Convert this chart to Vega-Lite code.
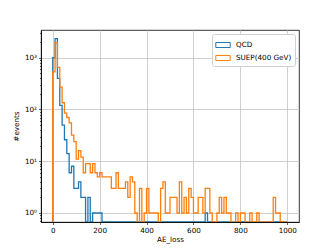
{
  "$schema": "https://vega.github.io/schema/vega-lite/v6.json",
  "width": 258,
  "height": 192,
  "autosize": {"type": "none"},
  "padding": {"left": 41, "top": 30, "right": 33, "bottom": 27},
  "background": "white",
  "config": {
    "view": {"stroke": "black", "strokeWidth": 0.8},
    "font": "DejaVu Sans",
    "axis": {
      "labelFont": "DejaVu Sans",
      "titleFont": "DejaVu Sans",
      "labelFontSize": 7.2,
      "titleFontSize": 7.2,
      "titleFontWeight": "normal",
      "labelColor": "black",
      "titleColor": "black",
      "domainColor": "black",
      "domainWidth": 0.8,
      "tickColor": "black",
      "tickWidth": 0.6,
      "gridColor": "#c4c4c4",
      "gridWidth": 0.8,
      "labelPadding": 2,
      "zindex": 1
    },
    "legend": {
      "labelFont": "DejaVu Sans",
      "labelFontSize": 7.2,
      "labelColor": "black"
    }
  },
  "data": {
    "values": [
      {"s": "QCD", "x": 0, "n": 0},
      {"s": "QCD", "x": 0, "n": 1000},
      {"s": "QCD", "x": 10, "n": 2350},
      {"s": "QCD", "x": 20, "n": 400},
      {"s": "QCD", "x": 30, "n": 120},
      {"s": "QCD", "x": 40, "n": 50},
      {"s": "QCD", "x": 50, "n": 26},
      {"s": "QCD", "x": 60, "n": 14},
      {"s": "QCD", "x": 70, "n": 6},
      {"s": "QCD", "x": 80, "n": 8},
      {"s": "QCD", "x": 90, "n": 3},
      {"s": "QCD", "x": 100, "n": 3},
      {"s": "QCD", "x": 110, "n": 4},
      {"s": "QCD", "x": 120, "n": 2},
      {"s": "QCD", "x": 130, "n": 2},
      {"s": "QCD", "x": 140, "n": 0},
      {"s": "QCD", "x": 150, "n": 2},
      {"s": "QCD", "x": 160, "n": 0},
      {"s": "QCD", "x": 170, "n": 1},
      {"s": "QCD", "x": 180, "n": 1},
      {"s": "QCD", "x": 190, "n": 1},
      {"s": "QCD", "x": 200, "n": 1},
      {"s": "QCD", "x": 210, "n": 0},
      {"s": "QCD", "x": 220, "n": 0},
      {"s": "QCD", "x": 230, "n": 0},
      {"s": "QCD", "x": 240, "n": 0},
      {"s": "QCD", "x": 250, "n": 0},
      {"s": "QCD", "x": 260, "n": 0},
      {"s": "QCD", "x": 270, "n": 0},
      {"s": "QCD", "x": 280, "n": 0},
      {"s": "QCD", "x": 290, "n": 0},
      {"s": "QCD", "x": 300, "n": 0},
      {"s": "QCD", "x": 310, "n": 0},
      {"s": "QCD", "x": 320, "n": 0},
      {"s": "QCD", "x": 330, "n": 0},
      {"s": "QCD", "x": 340, "n": 0},
      {"s": "QCD", "x": 350, "n": 0},
      {"s": "QCD", "x": 360, "n": 0},
      {"s": "QCD", "x": 370, "n": 0},
      {"s": "QCD", "x": 380, "n": 0},
      {"s": "QCD", "x": 390, "n": 0},
      {"s": "QCD", "x": 400, "n": 0},
      {"s": "QCD", "x": 410, "n": 0},
      {"s": "QCD", "x": 420, "n": 0},
      {"s": "QCD", "x": 430, "n": 0},
      {"s": "QCD", "x": 440, "n": 0},
      {"s": "QCD", "x": 450, "n": 0},
      {"s": "QCD", "x": 460, "n": 0},
      {"s": "QCD", "x": 470, "n": 0},
      {"s": "QCD", "x": 480, "n": 0},
      {"s": "QCD", "x": 490, "n": 0},
      {"s": "QCD", "x": 500, "n": 0},
      {"s": "QCD", "x": 510, "n": 0},
      {"s": "QCD", "x": 520, "n": 0},
      {"s": "QCD", "x": 530, "n": 0},
      {"s": "QCD", "x": 540, "n": 0},
      {"s": "QCD", "x": 550, "n": 0},
      {"s": "QCD", "x": 560, "n": 0},
      {"s": "QCD", "x": 570, "n": 0},
      {"s": "QCD", "x": 580, "n": 0},
      {"s": "QCD", "x": 590, "n": 0},
      {"s": "QCD", "x": 600, "n": 0},
      {"s": "QCD", "x": 610, "n": 0},
      {"s": "QCD", "x": 620, "n": 0},
      {"s": "QCD", "x": 630, "n": 0},
      {"s": "QCD", "x": 640, "n": 0},
      {"s": "QCD", "x": 650, "n": 1},
      {"s": "QCD", "x": 660, "n": 0},
      {"s": "QCD", "x": 670, "n": 0},
      {"s": "QCD", "x": 680, "n": 0},
      {"s": "QCD", "x": 690, "n": 0},
      {"s": "QCD", "x": 700, "n": 0},
      {"s": "QCD", "x": 710, "n": 0},
      {"s": "QCD", "x": 720, "n": 0},
      {"s": "QCD", "x": 730, "n": 0},
      {"s": "QCD", "x": 740, "n": 0},
      {"s": "QCD", "x": 750, "n": 0},
      {"s": "QCD", "x": 760, "n": 0},
      {"s": "QCD", "x": 770, "n": 0},
      {"s": "QCD", "x": 780, "n": 0},
      {"s": "QCD", "x": 790, "n": 0},
      {"s": "QCD", "x": 800, "n": 0},
      {"s": "QCD", "x": 810, "n": 0},
      {"s": "QCD", "x": 820, "n": 0},
      {"s": "QCD", "x": 830, "n": 0},
      {"s": "QCD", "x": 840, "n": 0},
      {"s": "QCD", "x": 850, "n": 0},
      {"s": "QCD", "x": 860, "n": 0},
      {"s": "QCD", "x": 870, "n": 0},
      {"s": "QCD", "x": 880, "n": 0},
      {"s": "QCD", "x": 890, "n": 0},
      {"s": "QCD", "x": 900, "n": 0},
      {"s": "QCD", "x": 910, "n": 0},
      {"s": "QCD", "x": 920, "n": 0},
      {"s": "QCD", "x": 930, "n": 0},
      {"s": "QCD", "x": 940, "n": 0},
      {"s": "QCD", "x": 950, "n": 0},
      {"s": "QCD", "x": 960, "n": 0},
      {"s": "QCD", "x": 970, "n": 0},
      {"s": "QCD", "x": 980, "n": 0},
      {"s": "QCD", "x": 990, "n": 0},
      {"s": "QCD", "x": 1000, "n": 0},
      {"s": "SUEP(400 GeV)", "x": 0, "n": 0},
      {"s": "SUEP(400 GeV)", "x": 0, "n": 535},
      {"s": "SUEP(400 GeV)", "x": 10, "n": 1950},
      {"s": "SUEP(400 GeV)", "x": 20, "n": 650},
      {"s": "SUEP(400 GeV)", "x": 30, "n": 270},
      {"s": "SUEP(400 GeV)", "x": 40, "n": 135},
      {"s": "SUEP(400 GeV)", "x": 50, "n": 85},
      {"s": "SUEP(400 GeV)", "x": 60, "n": 70},
      {"s": "SUEP(400 GeV)", "x": 70, "n": 55},
      {"s": "SUEP(400 GeV)", "x": 80, "n": 32},
      {"s": "SUEP(400 GeV)", "x": 90, "n": 24},
      {"s": "SUEP(400 GeV)", "x": 100, "n": 11},
      {"s": "SUEP(400 GeV)", "x": 110, "n": 16},
      {"s": "SUEP(400 GeV)", "x": 120, "n": 12},
      {"s": "SUEP(400 GeV)", "x": 130, "n": 6},
      {"s": "SUEP(400 GeV)", "x": 140, "n": 9},
      {"s": "SUEP(400 GeV)", "x": 150, "n": 9},
      {"s": "SUEP(400 GeV)", "x": 160, "n": 6},
      {"s": "SUEP(400 GeV)", "x": 170, "n": 9},
      {"s": "SUEP(400 GeV)", "x": 180, "n": 6},
      {"s": "SUEP(400 GeV)", "x": 190, "n": 5},
      {"s": "SUEP(400 GeV)", "x": 200, "n": 6},
      {"s": "SUEP(400 GeV)", "x": 210, "n": 5},
      {"s": "SUEP(400 GeV)", "x": 220, "n": 5},
      {"s": "SUEP(400 GeV)", "x": 230, "n": 5},
      {"s": "SUEP(400 GeV)", "x": 240, "n": 5},
      {"s": "SUEP(400 GeV)", "x": 250, "n": 3},
      {"s": "SUEP(400 GeV)", "x": 260, "n": 3},
      {"s": "SUEP(400 GeV)", "x": 270, "n": 6},
      {"s": "SUEP(400 GeV)", "x": 280, "n": 3},
      {"s": "SUEP(400 GeV)", "x": 290, "n": 3},
      {"s": "SUEP(400 GeV)", "x": 300, "n": 3},
      {"s": "SUEP(400 GeV)", "x": 310, "n": 4},
      {"s": "SUEP(400 GeV)", "x": 320, "n": 2},
      {"s": "SUEP(400 GeV)", "x": 330, "n": 5},
      {"s": "SUEP(400 GeV)", "x": 340, "n": 4},
      {"s": "SUEP(400 GeV)", "x": 350, "n": 1},
      {"s": "SUEP(400 GeV)", "x": 360, "n": 0},
      {"s": "SUEP(400 GeV)", "x": 370, "n": 3},
      {"s": "SUEP(400 GeV)", "x": 380, "n": 0},
      {"s": "SUEP(400 GeV)", "x": 390, "n": 1},
      {"s": "SUEP(400 GeV)", "x": 400, "n": 3},
      {"s": "SUEP(400 GeV)", "x": 410, "n": 1},
      {"s": "SUEP(400 GeV)", "x": 420, "n": 1},
      {"s": "SUEP(400 GeV)", "x": 430, "n": 1},
      {"s": "SUEP(400 GeV)", "x": 440, "n": 1},
      {"s": "SUEP(400 GeV)", "x": 450, "n": 0},
      {"s": "SUEP(400 GeV)", "x": 460, "n": 3},
      {"s": "SUEP(400 GeV)", "x": 470, "n": 4},
      {"s": "SUEP(400 GeV)", "x": 480, "n": 1},
      {"s": "SUEP(400 GeV)", "x": 490, "n": 1},
      {"s": "SUEP(400 GeV)", "x": 500, "n": 2},
      {"s": "SUEP(400 GeV)", "x": 510, "n": 2},
      {"s": "SUEP(400 GeV)", "x": 520, "n": 2},
      {"s": "SUEP(400 GeV)", "x": 530, "n": 1},
      {"s": "SUEP(400 GeV)", "x": 540, "n": 4},
      {"s": "SUEP(400 GeV)", "x": 550, "n": 1},
      {"s": "SUEP(400 GeV)", "x": 560, "n": 2},
      {"s": "SUEP(400 GeV)", "x": 570, "n": 1},
      {"s": "SUEP(400 GeV)", "x": 580, "n": 3},
      {"s": "SUEP(400 GeV)", "x": 590, "n": 2},
      {"s": "SUEP(400 GeV)", "x": 600, "n": 1},
      {"s": "SUEP(400 GeV)", "x": 610, "n": 1},
      {"s": "SUEP(400 GeV)", "x": 620, "n": 2},
      {"s": "SUEP(400 GeV)", "x": 630, "n": 2},
      {"s": "SUEP(400 GeV)", "x": 640, "n": 1},
      {"s": "SUEP(400 GeV)", "x": 650, "n": 3},
      {"s": "SUEP(400 GeV)", "x": 660, "n": 3},
      {"s": "SUEP(400 GeV)", "x": 670, "n": 1},
      {"s": "SUEP(400 GeV)", "x": 680, "n": 0},
      {"s": "SUEP(400 GeV)", "x": 690, "n": 0},
      {"s": "SUEP(400 GeV)", "x": 700, "n": 1},
      {"s": "SUEP(400 GeV)", "x": 710, "n": 2},
      {"s": "SUEP(400 GeV)", "x": 720, "n": 1},
      {"s": "SUEP(400 GeV)", "x": 730, "n": 2},
      {"s": "SUEP(400 GeV)", "x": 740, "n": 1},
      {"s": "SUEP(400 GeV)", "x": 750, "n": 1},
      {"s": "SUEP(400 GeV)", "x": 760, "n": 0},
      {"s": "SUEP(400 GeV)", "x": 770, "n": 0},
      {"s": "SUEP(400 GeV)", "x": 780, "n": 1},
      {"s": "SUEP(400 GeV)", "x": 790, "n": 0},
      {"s": "SUEP(400 GeV)", "x": 800, "n": 1},
      {"s": "SUEP(400 GeV)", "x": 810, "n": 1},
      {"s": "SUEP(400 GeV)", "x": 820, "n": 0},
      {"s": "SUEP(400 GeV)", "x": 830, "n": 0},
      {"s": "SUEP(400 GeV)", "x": 840, "n": 1},
      {"s": "SUEP(400 GeV)", "x": 850, "n": 0},
      {"s": "SUEP(400 GeV)", "x": 860, "n": 0},
      {"s": "SUEP(400 GeV)", "x": 870, "n": 1},
      {"s": "SUEP(400 GeV)", "x": 880, "n": 0},
      {"s": "SUEP(400 GeV)", "x": 890, "n": 0},
      {"s": "SUEP(400 GeV)", "x": 900, "n": 0},
      {"s": "SUEP(400 GeV)", "x": 910, "n": 0},
      {"s": "SUEP(400 GeV)", "x": 920, "n": 0},
      {"s": "SUEP(400 GeV)", "x": 930, "n": 0},
      {"s": "SUEP(400 GeV)", "x": 940, "n": 2},
      {"s": "SUEP(400 GeV)", "x": 950, "n": 1},
      {"s": "SUEP(400 GeV)", "x": 960, "n": 1},
      {"s": "SUEP(400 GeV)", "x": 970, "n": 0},
      {"s": "SUEP(400 GeV)", "x": 980, "n": 0},
      {"s": "SUEP(400 GeV)", "x": 990, "n": 0},
      {"s": "SUEP(400 GeV)", "x": 1000, "n": 0}
    ]
  },
  "mark": {"type": "line", "interpolate": "step-after", "strokeWidth": 1.3, "invalid": "show", "clip": true},
  "encoding": {
    "x": {
      "field": "x",
      "type": "quantitative",
      "scale": {"domain": [-50, 1050], "nice": false, "zero": false},
      "axis": {
        "title": "AE_loss",
        "values": [0, 200, 400, 600, 800, 1000],
        "format": "d",
        "tickSize": 2.5,
        "titlePadding": 2,
        "grid": true
      }
    },
    "y": {
      "field": "n",
      "type": "quantitative",
      "scale": {"type": "log", "domain": [0.67, 3436], "nice": false, "clamp": true},
      "axis": {
        "title": "#events",
        "values": [0.7, 0.8, 0.9, 1, 2, 3, 4, 5, 6, 7, 8, 9, 10, 20, 30, 40, 50, 60, 70, 80, 90, 100, 200, 300, 400, 500, 600, 700, 800, 900, 1000, 2000, 3000],
        "labelExpr": "datum.value == 1 ? '10⁰' : datum.value == 10 ? '10¹' : datum.value == 100 ? '10²' : datum.value == 1000 ? '10³' : ''",
        "tickSize": {"condition": {"test": "datum.value == 1 || datum.value == 10 || datum.value == 100 || datum.value == 1000", "value": 2.5}, "value": 1.5},
        "gridOpacity": {"condition": {"test": "datum.value == 1 || datum.value == 10 || datum.value == 100 || datum.value == 1000", "value": 1}, "value": 0},
        "titlePadding": 4,
        "grid": true
      }
    },
    "color": {
      "field": "s",
      "type": "nominal",
      "scale": {"domain": ["QCD", "SUEP(400 GeV)"], "range": ["#1f77b4", "#ff7f0e"]},
      "legend": {
        "title": null,
        "orient": "top-right",
        "offset": 4,
        "fillColor": "white",
        "strokeColor": "#d0d0d0",
        "cornerRadius": 2,
        "padding": 3,
        "symbolType": "M-1,-0.35L1,-0.35L1,0.35L-1,0.35Z",
        "symbolSize": 207,
        "symbolStrokeWidth": 1,
        "labelOffset": 5,
        "rowPadding": 0
      }
    },
    "order": {"value": null}
  }
}
